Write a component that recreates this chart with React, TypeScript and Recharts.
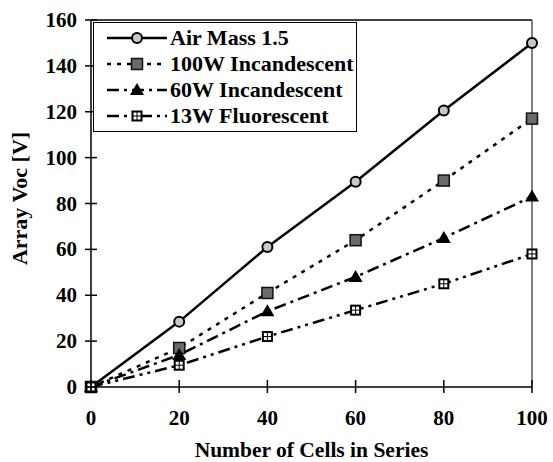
import { LineChart, Line, XAxis, YAxis, Legend, ReferenceLine, Label } from "recharts"

const cells = [0, 20, 40, 60, 80, 100]
const airMass = [0, 28.5, 61, 89.5, 120.5, 150]
const incandescent100 = [0, 17, 41, 64, 90, 117]
const incandescent60 = [0, 14, 33, 48, 65, 83]
const fluorescent13 = [0, 9.5, 22, 33.5, 45, 58]

const xTicks = [0, 20, 40, 60, 80, 100]
const yTicks = [0, 20, 40, 60, 80, 100, 120, 140, 160]

const FONT = '"Liberation Serif", "Times New Roman", serif'

const data = cells.map((c, i) => ({
  cells: c,
  air: airMass[i],
  w100: incandescent100[i],
  w60: incandescent60[i],
  w13: fluorescent13[i],
}))

type Shape = "circle" | "square" | "triangle" | "window"

const SERIES: { key: string; name: string; dash?: string; shape: Shape }[] = [
  { key: "air", name: "Air Mass 1.5", shape: "circle" },
  { key: "w100", name: "100W Incandescent", dash: "4 6", shape: "square" },
  { key: "w60", name: "60W Incandescent", dash: "12 5 3 5", shape: "triangle" },
  { key: "w13", name: "13W Fluorescent", dash: "12 5 3 5 3 5", shape: "window" },
]

function Marker({ shape, cx, cy }: { shape: Shape; cx: number; cy: number }) {
  if (shape === "circle") {
    return <circle cx={cx} cy={cy} r={5} fill="#c8c8c8" stroke="#000" strokeWidth={2} />
  }
  if (shape === "square") {
    return <rect x={cx - 5.5} y={cy - 5.5} width={11} height={11} fill="#6a6a6a" stroke="#111" strokeWidth={1.5} />
  }
  if (shape === "triangle") {
    return <polygon points={`${cx},${cy - 7} ${cx + 7},${cy + 5} ${cx - 7},${cy + 5}`} fill="#000" />
  }
  return (
    <g>
      <rect x={cx - 5.5} y={cy - 5.5} width={11} height={11} fill="#000" />
      <rect x={cx - 3.5} y={cy - 3.5} width={3} height={3} fill="#fff" />
      <rect x={cx + 0.5} y={cy - 3.5} width={3} height={3} fill="#fff" />
      <rect x={cx - 3.5} y={cy + 0.5} width={3} height={3} fill="#fff" />
      <rect x={cx + 0.5} y={cy + 0.5} width={3} height={3} fill="#fff" />
    </g>
  )
}

const XTick = ({ x, y, payload }: any) => (
  <g>
    <line x1={x} x2={x} y1={y - 7} y2={y + 6} stroke="#000" strokeWidth={1.5} />
    <text x={x} y={y + 31} textAnchor="middle" dominantBaseline="central"
      style={{ fontFamily: FONT, fontWeight: 700, fontSize: 21, fill: "#000" }}>
      {payload.value}
    </text>
  </g>
)

const YTick = ({ x, y, payload }: any) => (
  <g>
    <line x1={x - 6} x2={x + 6} y1={y} y2={y} stroke="#000" strokeWidth={1.5} />
    <text x={x - 14} y={y} textAnchor="end" dominantBaseline="central"
      style={{ fontFamily: FONT, fontWeight: 700, fontSize: 21, fill: "#000" }}>
      {payload.value}
    </text>
  </g>
)

const renderLegend = () => (
  <div style={{
    border: "1.5px solid #000", background: "#fff", width: 262, padding: "2px 0",
    fontFamily: FONT, fontWeight: 700, fontSize: 22, color: "#000",
  }}>
    {SERIES.map(s => (
      <div key={s.key} style={{ display: "flex", alignItems: "center", height: 26 }}>
        <svg width={60} height={20} style={{ marginLeft: 13, marginRight: 3 }}>
          <line x1={0} x2={60} y1={10} y2={10} stroke="#000" strokeWidth={2.5} strokeDasharray={s.dash} />
          <Marker shape={s.shape} cx={30} cy={10} />
        </svg>
        <span style={{ lineHeight: "26px", whiteSpace: "nowrap" }}>{s.name}</span>
      </div>
    ))}
  </div>
)

export default function App() {
  return (
    <div style={{ position: "absolute", left: 0, top: 0, background: "#fff" }}>
      <LineChart width={553} height={462} data={data} margin={{ top: 20, right: 21, bottom: 25, left: 30 }}>
        <XAxis
          dataKey="cells" type="number" domain={[0, 100]} ticks={xTicks}
          height={50} tickSize={0} tickMargin={0} tickLine={false}
          axisLine={{ stroke: "#000", strokeWidth: 1.5 }} tick={<XTick />}
        >
          <Label content={({ viewBox }: any) => (
            <text x={viewBox.x + viewBox.width / 2} y={450} textAnchor="middle" dominantBaseline="central"
              style={{ fontFamily: FONT, fontWeight: 700, fontSize: 21.5, fill: "#000" }}>
              Number of Cells in Series
            </text>
          )} />
        </XAxis>
        <YAxis
          type="number" domain={[0, 160]} ticks={yTicks} width={61}
          tickSize={0} tickMargin={0} tickLine={false}
          axisLine={{ stroke: "#000", strokeWidth: 1.5 }} tick={<YTick />}
        >
          <Label content={({ viewBox }: any) => {
            const cy = viewBox.y + viewBox.height / 2 - 5
            return (
              <text x={19} y={cy} textAnchor="middle" dominantBaseline="central" transform={`rotate(-90 19 ${cy})`}
                style={{ fontFamily: FONT, fontWeight: 700, fontSize: 22, fill: "#000" }}>
                Array Voc [V]
              </text>
            )
          }} />
        </YAxis>
        <ReferenceLine y={160} stroke="#000" strokeWidth={1.5} />
        <ReferenceLine x={100} stroke="#555" strokeWidth={1.5} />
        {SERIES.map(s => (
          <Line
            key={s.key} dataKey={s.key} name={s.name} type="linear"
            stroke="#000" strokeWidth={2.5} strokeDasharray={s.dash}
            isAnimationActive={false}
            dot={(p: any) => <Marker key={`${s.key}-${p.index}`} shape={s.shape} cx={p.cx} cy={p.cy} />}
            activeDot={false}
          />
        ))}
        <Legend
          layout="horizontal" verticalAlign="middle" align="center"
          content={renderLegend}
          wrapperStyle={{ left: 93, top: 22, width: "auto" }}
        />
      </LineChart>
    </div>
  )
}
